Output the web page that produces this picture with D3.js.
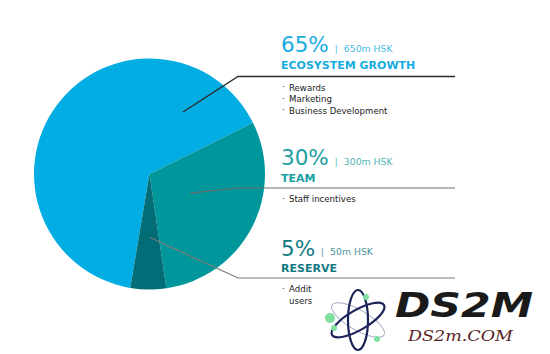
<!DOCTYPE html>
<html>
<head>
<meta charset="utf-8">
<script src="https://cdn.jsdelivr.net/npm/d3@7"></script>
<style>
  html, body { margin: 0; padding: 0; background: #fff; }
  svg { display: block; }
</style>
</head>
<body>
<svg id="chart" width="550" height="354"></svg>
<script>
// ---- data ----
const categories = ["ECOSYSTEM GROWTH", "TEAM", "RESERVE"];
const shares = [65, 30, 5];
const amounts = ["650m HSK", "300m HSK", "50m HSK"];
const bullets = [
  ["Rewards", "Marketing", "Business Development"],
  ["Staff incentives"],
  ["Addit", "users"]
];
const colors = ["#02ADE3", "#00979C", "#026C77"];
const labelColors = ["#16ACE0", "#1C9FA1", "#117A82"];

// ---- layout ----
const svg = d3.select("#chart");
const cx = 149.5, cy = 174, r = 115.5;
const deg = Math.PI / 180;

const pie = d3.pie().sort(null).value(d => d)
  .startAngle(-170.4 * deg).endAngle(189.6 * deg);
const arcs = pie(shares);
const arc = d3.arc().innerRadius(0).outerRadius(r);

const g = svg.append("g").attr("transform", `translate(${cx},${cy})`);
g.selectAll("path").data(arcs).enter().append("path")
  .attr("d", arc).attr("fill", (d, i) => colors[i]);

// leader lines: anchor inside slice (angle, fraction of radius), elbow, horizontal
const anchorAng = [28.4, 115, 179.6];
const anchorR = [0.61, 0.39, 0.55];
const elbowX = 238, lineEnd = 455;
const lineY = [76.5, 188, 278];
const lineColor = ["#2b2b2b", "#6e6e6e", "#7a7a7a"];
arcs.forEach((a, i) => {
  const ang = anchorAng[i] * deg, rr = r * anchorR[i];
  const ax = cx + rr * Math.sin(ang), ay = cy - rr * Math.cos(ang);
  svg.append("polyline")
    .attr("points", `${ax},${ay} ${elbowX},${lineY[i]} ${lineEnd},${lineY[i]}`)
    .attr("fill", "none").attr("stroke", lineColor[i]).attr("stroke-width", i === 0 ? 1.3 : 1.2);
});

// labels
const font = "'DejaVu Sans', sans-serif";
const pctBase = [52.3, 165, 255.7];
const tx = 281;
arcs.forEach((a, i) => {
  const t = svg.append("text").attr("x", tx).attr("y", pctBase[i])
    .attr("font-family", font).attr("font-size", 21.5)
    .attr("fill", labelColors[i]).text(shares[i] + "%");
  const w = t.node().getComputedTextLength();
  svg.append("text").attr("x", tx + w + 6).attr("y", pctBase[i] - 0.5)
    .attr("font-family", font).attr("font-size", 8.5)
    .attr("fill", labelColors[i]).attr("opacity", 0.8)
    .text("|");
  svg.append("text").attr("x", tx + w + 15).attr("y", pctBase[i] - 0.5)
    .attr("font-family", font).attr("font-size", 9.3)
    .attr("fill", labelColors[i]).attr("opacity", 0.8)
    .text(amounts[i]);
  svg.append("text").attr("x", tx).attr("y", pctBase[i] + 16.5)
    .attr("font-family", font).attr("font-size", 11).attr("font-weight", 700)
    .attr("fill", labelColors[i]).text(categories[i]);
  bullets[i].forEach((b, j) => {
    const y = lineY[i] + 14 + j * 11.7;
    if (!(i === 2 && j > 0)) {
      svg.append("text").attr("x", tx + 1).attr("y", y - 0.5)
        .attr("font-family", font).attr("font-size", 8.5)
        .attr("fill", "#333").text("·");
    }
    svg.append("text").attr("x", tx + 8).attr("y", y)
      .attr("font-family", font).attr("font-size", 8.6)
      .attr("fill", "#222").text(b);
  });
});

// watermark
const wm = svg.append("g");
const ax0 = 358, ay0 = 320;
[[0, 30, 10, "#a9adc6", 1], [60, 30, 10, "#1c2359", 2.2], [-60, 30, 10, "#1c2359", 2.2]].forEach(([rot, rx, ry, c, sw]) => {
  wm.append("ellipse").attr("cx", ax0).attr("cy", ay0).attr("rx", rx).attr("ry", ry)
    .attr("transform", `rotate(${rot + 30},${ax0},${ay0})`)
    .attr("fill", "none").attr("stroke", c).attr("stroke-width", sw);
});
[[-28, -2, 5], [-24, 8, 3], [8, -23, 3], [19, 19, 3]].forEach(([dx, dy, rr]) => {
  wm.append("circle").attr("cx", ax0 + dx).attr("cy", ay0 + dy).attr("r", rr).attr("fill", "#7fe0a0");
});
wm.append("text").attr("x", 395).attr("y", 317).attr("font-family", "'DejaVu Sans', sans-serif")
  .attr("font-size", 34).attr("font-weight", 700).attr("font-style", "italic")
  .attr("fill", "#1a1a1a").attr("textLength", 138).attr("lengthAdjust", "spacingAndGlyphs").text("DS2M");
wm.append("text").attr("x", 408).attr("y", 341).attr("font-family", "'DejaVu Serif', serif")
  .attr("font-size", 14).attr("font-style", "italic").attr("fill", "#5a1f24")
  .attr("textLength", 105).attr("lengthAdjust", "spacingAndGlyphs").text("DS2m.COM");
</script>
</body>
</html>
